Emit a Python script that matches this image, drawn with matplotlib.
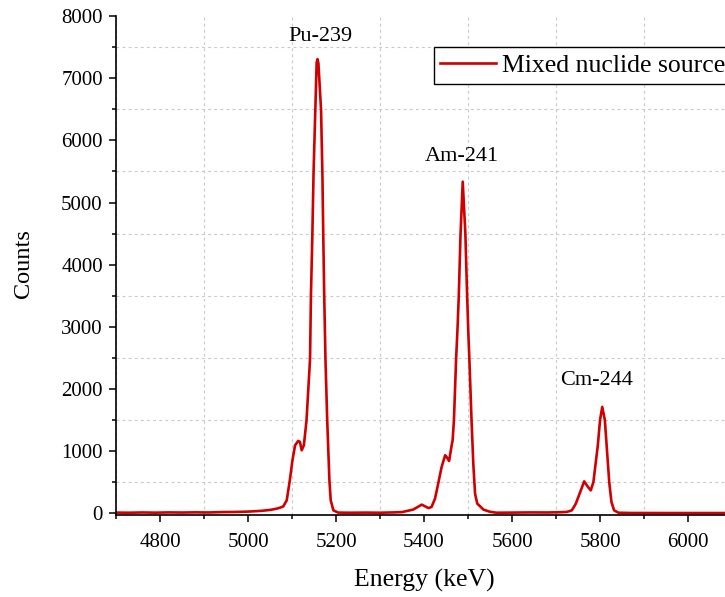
import numpy as np
import matplotlib.pyplot as plt
from matplotlib.ticker import MultipleLocator

plt.rcParams['font.family'] = ['Liberation Serif', 'DejaVu Serif']

# spectrum (energy in keV, counts)
energy = [4700, 4730, 4760, 4790, 4820, 4850, 4880, 4910, 4940, 4970, 5000,
          5030, 5050, 5065, 5073, 5080, 5088, 5095, 5101, 5107, 5114, 5118,
          5122, 5127, 5133, 5141, 5143, 5146, 5149, 5153, 5156, 5158, 5160,
          5166, 5169, 5171, 5173, 5176, 5180, 5185, 5188, 5194, 5205, 5230,
          5270, 5300, 5330, 5350, 5375, 5395, 5410, 5417, 5425, 5433, 5440,
          5448, 5452, 5457, 5463, 5465, 5468, 5473, 5476, 5479, 5483, 5488,
          5494, 5498, 5501, 5503, 5508, 5512, 5516, 5521, 5528, 5535, 5550,
          5565, 5600, 5640, 5680, 5710, 5724, 5736, 5745, 5755, 5764, 5772,
          5779, 5785, 5795, 5800, 5805, 5811, 5815, 5821, 5826, 5832, 5842,
          5870, 5950, 6050, 6100]
counts = [12, 10, 14, 11, 15, 13, 16, 14, 20, 22, 28,
          40, 55, 75, 92, 110, 209, 530, 853, 1095, 1164, 1150,
          1015, 1095, 1498, 2485, 3500, 4400, 5490, 6490, 7250, 7306, 7240,
          6490, 5490, 4493, 3590, 2485, 1498, 530, 209, 48, 12, 10,
          12, 10, 15, 20, 60, 140, 85, 102, 236, 505, 745,
          934, 900, 842, 1100, 1175, 1498, 2496, 2947, 3494, 4493, 5335,
          4493, 3494, 2850, 2496, 1498, 800, 317, 156, 110, 60, 25,
          10, 12, 15, 14, 18, 22, 48, 156, 343, 515, 430,
          370, 505, 1095, 1498, 1712, 1498, 1095, 494, 182, 48, 10,
          6, 5, 5, 5]

peak_names = ["Pu-239", "Am-241", "Cm-244"]
peak_label_x = [5164, 5486, 5793]
peak_label_y = [7665, 5733, 2142]

fig = plt.figure(figsize=(7.25, 5.97), dpi=100)
ax = fig.add_axes([0.16, 0.137, 0.8497, 0.8362])

ax.plot(energy, counts, color='#d00000', lw=1.9, label='Mixed nuclide source')

for name, px, py in zip(peak_names, peak_label_x, peak_label_y):
    ax.text(px, py, name, ha='center', va='center', fontsize=16)

ax.set_xlim(4700, 6100)
ax.set_ylim(-30, 8000)
ax.xaxis.set_major_locator(MultipleLocator(200))
ax.xaxis.set_minor_locator(MultipleLocator(100))
ax.yaxis.set_major_locator(MultipleLocator(1000))
ax.yaxis.set_minor_locator(MultipleLocator(500))

ax.grid(which='minor', color='#c8c8c8', ls=(0, (2.5, 3)), lw=0.8)
ax.grid(which='major', visible=False)

ax.spines['top'].set_visible(False)
ax.spines['right'].set_visible(False)
ax.spines['left'].set_linewidth(1.2)
ax.spines['bottom'].set_linewidth(1.2)
ax.tick_params(which='major', direction='out', length=5, width=1.1, labelsize=15)
ax.tick_params(which='minor', direction='out', length=3, width=1.1)
ax.tick_params(axis='x', which='major', pad=8)
ax.tick_params(axis='y', which='major', pad=4.5)

ax.set_xlabel('Energy (keV)', fontsize=18.5)
ax.set_ylabel('Counts', fontsize=17.5)
ax.xaxis.set_label_coords(0.5, -0.108)
ax.yaxis.set_label_coords(-0.133, 0.505)

leg = ax.legend(loc='upper left', bbox_to_anchor=(0.5154, 0.9385), borderaxespad=0,
                fontsize=18.5, handlelength=2.15, handletextpad=0.25, borderpad=0.27,
                fancybox=False, framealpha=1, edgecolor='black')
leg.get_frame().set_linewidth(1.0)

fig.savefig('out.png', dpi=100)
